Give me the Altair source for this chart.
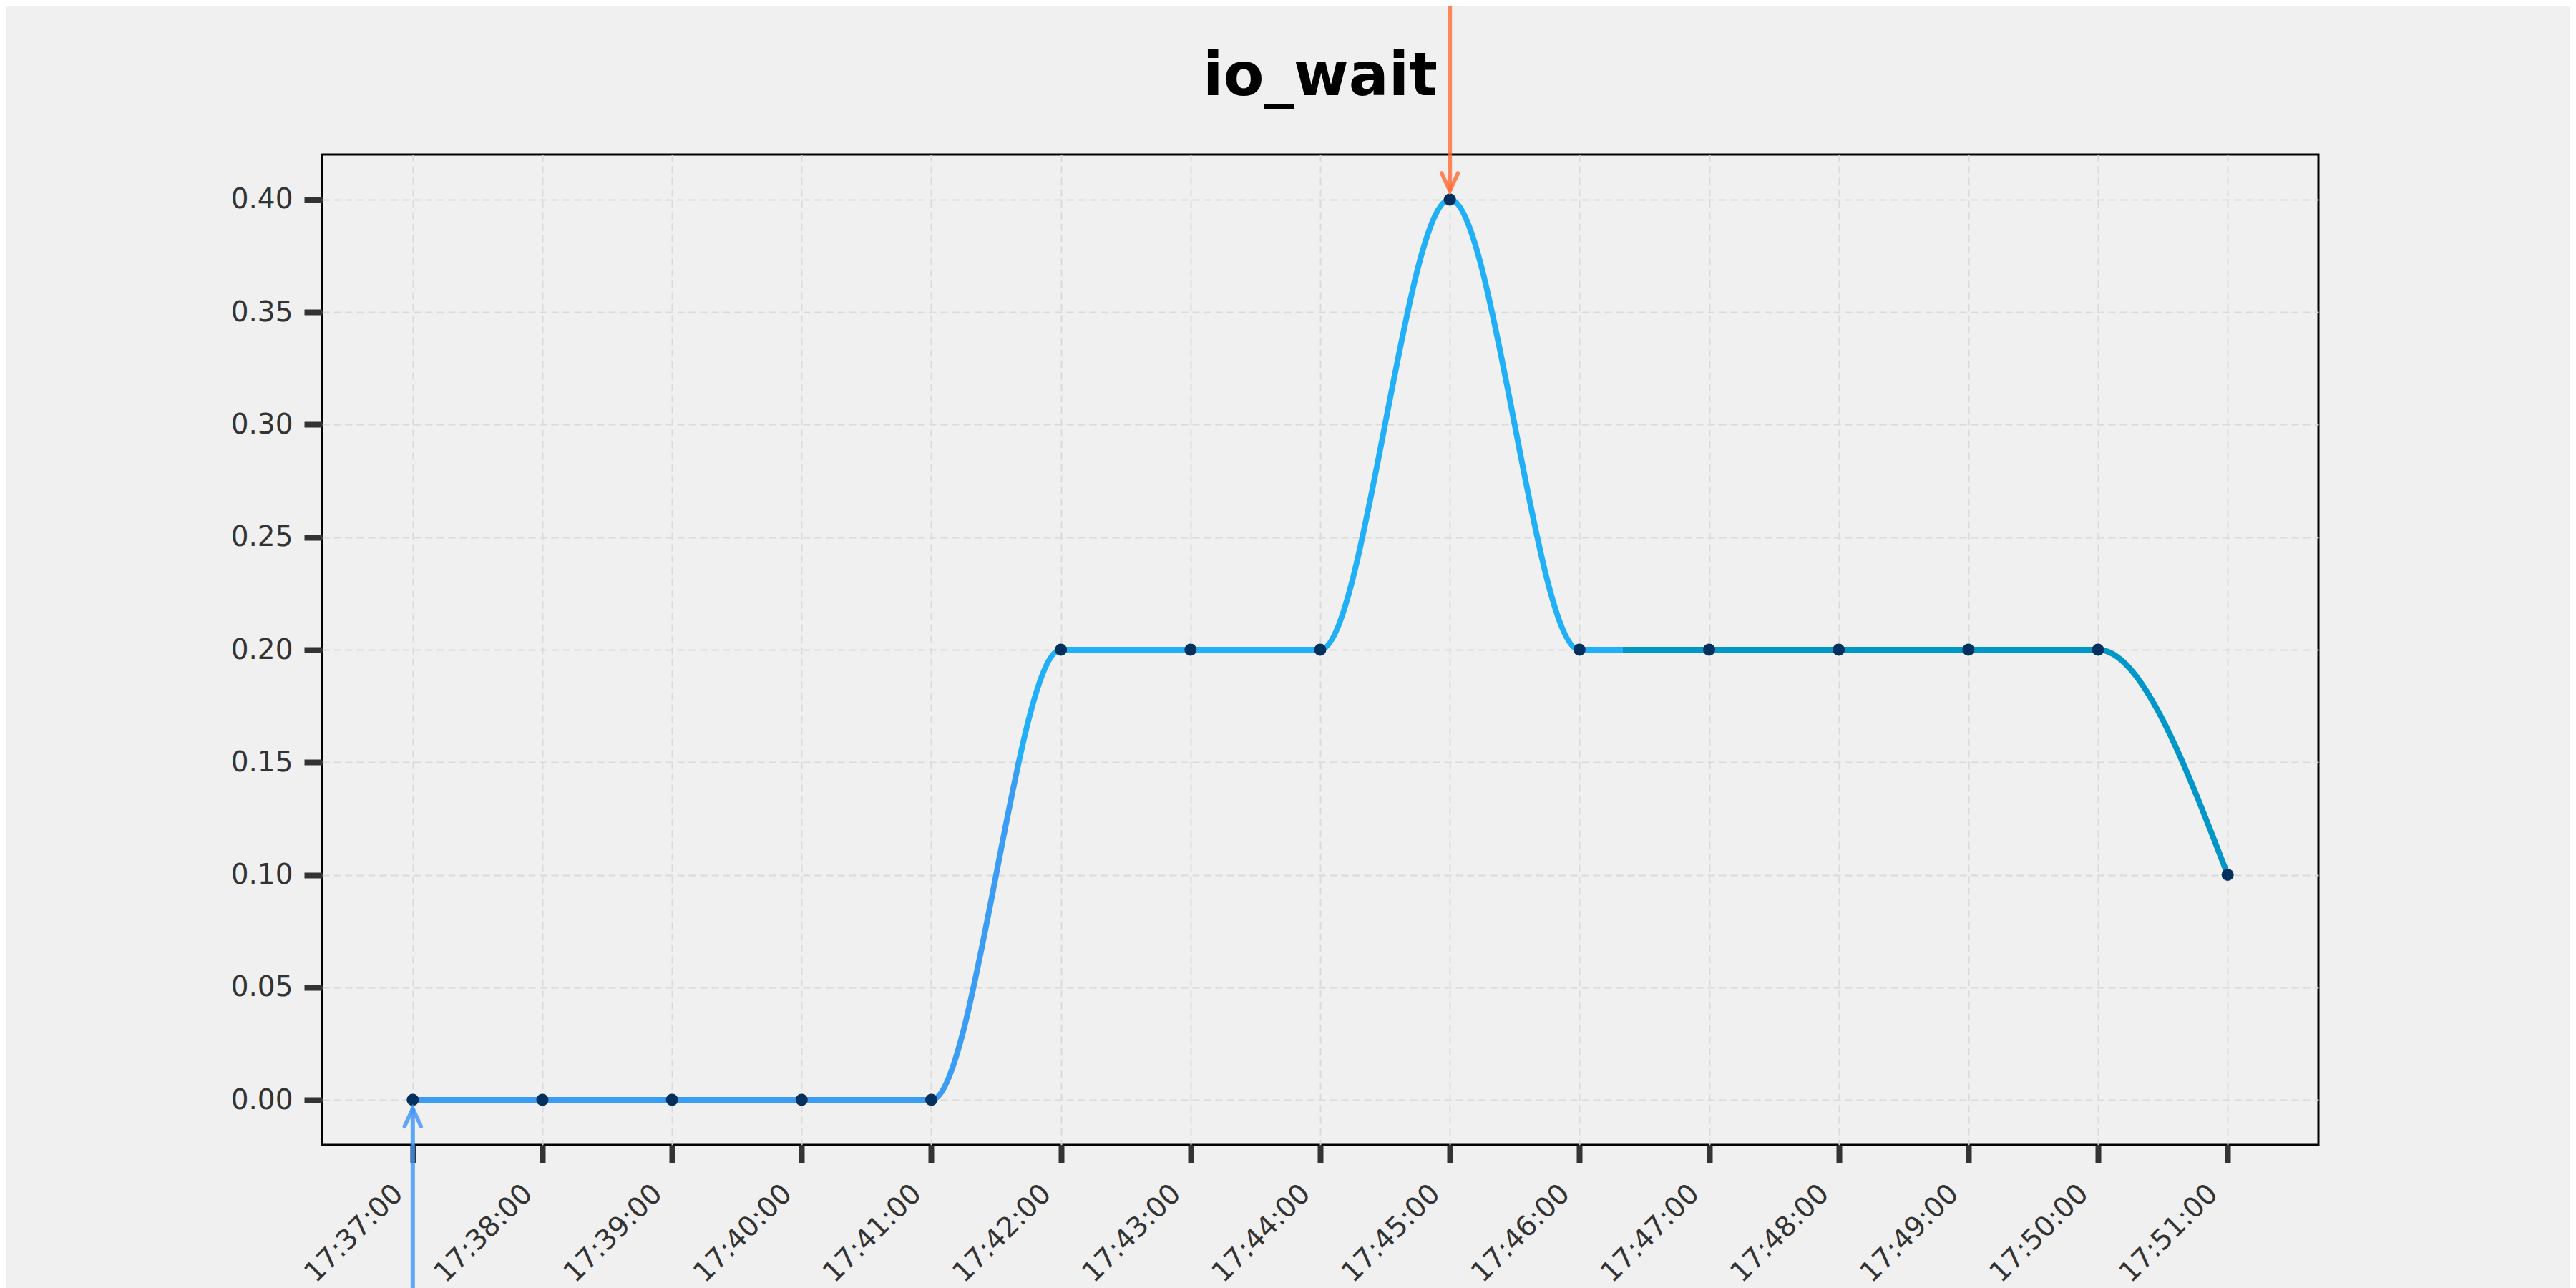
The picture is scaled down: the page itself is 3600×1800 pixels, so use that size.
import altair as alt
import pandas as pd

# ---- data ----
times = ["17:37:00", "17:38:00", "17:39:00", "17:40:00", "17:41:00",
         "17:42:00", "17:43:00", "17:44:00", "17:45:00", "17:46:00",
         "17:47:00", "17:48:00", "17:49:00", "17:50:00", "17:51:00"]
values = [0.0, 0.0, 0.0, 0.0, 0.0,
          0.2, 0.2, 0.2, 0.4, 0.2,
          0.2, 0.2, 0.2, 0.2, 0.1]
y_ticks = [0.0, 0.05, 0.10, 0.15, 0.20, 0.25, 0.30, 0.35, 0.40]
x_domain = ["17:36:18", "17:51:42"]
y_domain = [-0.02, 0.42]

# annotation targets: max (orange, from top) and min (blue, from bottom)
max_time, max_value = "17:45:00", 0.4
min_time, min_value = "17:37:00", 0.0

DAY = "2024-01-01T"
df = pd.DataFrame({"t": [DAY + s for s in times], "v": values})
df_max = pd.DataFrame({"t": [DAY + max_time], "v": [max_value]})
df_min = pd.DataFrame({"t": [DAY + min_time], "v": [min_value]})

FONT = "DejaVu Sans"
BG = "#f0f0f0"

xscale = alt.Scale(domain=[DAY + x_domain[0], DAY + x_domain[1]], nice=False)
yscale = alt.Scale(domain=y_domain, nice=False, zero=False)

xaxis = alt.Axis(
    title=None, values=[DAY + s for s in times], format="%H:%M:%S",
    labelAngle=315, labelAlign="right", labelBaseline="top",
    labelPadding=23, labelOffset=-34,
    labelFontSize=39, labelFont=FONT, labelColor="#333333",
    tickSize=25, tickWidth=8, tickColor="#333333", domain=False,
    grid=True, gridDash=[10, 6], gridColor="#dadada", gridWidth=2,
    labelOverlap=False, labelFlush=False,
)
yaxis = alt.Axis(
    title=None, values=y_ticks, format=".2f",
    labelPadding=16, labelFontSize=39, labelFont=FONT, labelColor="#333333",
    tickSize=25, tickWidth=8, tickColor="#333333", domain=False,
    grid=True, gridDash=[10, 6], gridColor="#dadada", gridWidth=2,
    labelOverlap=False, labelFlush=False,
)

X = alt.X("t:T", scale=xscale, axis=xaxis)
Y = alt.Y("v:Q", scale=yscale, axis=yaxis)

c1, c2, c3 = "#3b9cf4", "#21b0f8", "#0096c7"
grad = alt.Gradient(
    gradient="linear",
    stops=[
        alt.GradientStop(color=c1, offset=0),
        alt.GradientStop(color=c1, offset=1 / 3),
        alt.GradientStop(color=c2, offset=1 / 3),
        alt.GradientStop(color=c2, offset=2 / 3),
        alt.GradientStop(color=c3, offset=2 / 3),
        alt.GradientStop(color=c3, offset=1),
    ],
    x1=0, x2=1, y1=0, y2=0,
)

line = alt.Chart(df).mark_line(
    interpolate="monotone", strokeWidth=8, color=grad, strokeCap="round"
).encode(x=X, y=Y)

points = alt.Chart(df).mark_circle(size=290, color="#03305c", opacity=1).encode(x=X, y=Y)

ORANGE = "#ff6a33"
BLUE = "#3b93fc"

top_shaft = alt.Chart(df_max).mark_rule(
    color=ORANGE, opacity=0.8, strokeWidth=6, yOffset=-12
).encode(x=X, y=Y, y2=alt.value(-208))
top_head = alt.Chart(df_max).mark_point(
    shape="M -0.46 -1 L 0 0 L 0.46 -1", size=2500, filled=False,
    color=ORANGE, opacity=0.8, strokeWidth=5.5, strokeCap="round", yOffset=-12
).encode(x=X, y=Y)

bot_shaft = alt.Chart(df_min).mark_rule(
    color=BLUE, opacity=0.8, strokeWidth=6, yOffset=12
).encode(x=X, y=Y, y2=alt.value(1384 + 200))
bot_head = alt.Chart(df_min).mark_point(
    shape="M -0.46 1 L 0 0 L 0.46 1", size=2500, filled=False,
    color=BLUE, opacity=0.8, strokeWidth=5.5, strokeCap="round", yOffset=12
).encode(x=X, y=Y)

chart = alt.layer(line, points, top_shaft, top_head, bot_shaft, bot_head).properties(
    width=2790, height=1384,
    title=alt.TitleParams(
        text="io_wait", font=FONT, fontSize=83, fontWeight="bold",
        color="black", anchor="middle", baseline="alphabetic", offset=-211,
    ),
    autosize=alt.AutoSizeParams(type="none"),
    padding={"left": 442, "top": 208, "right": 352, "bottom": 200},
    background=BG,
).configure_view(
    stroke="black", strokeWidth=3, fill=BG
)

chart.save("out.html", embed_options={"renderer": "svg", "actions": False})
